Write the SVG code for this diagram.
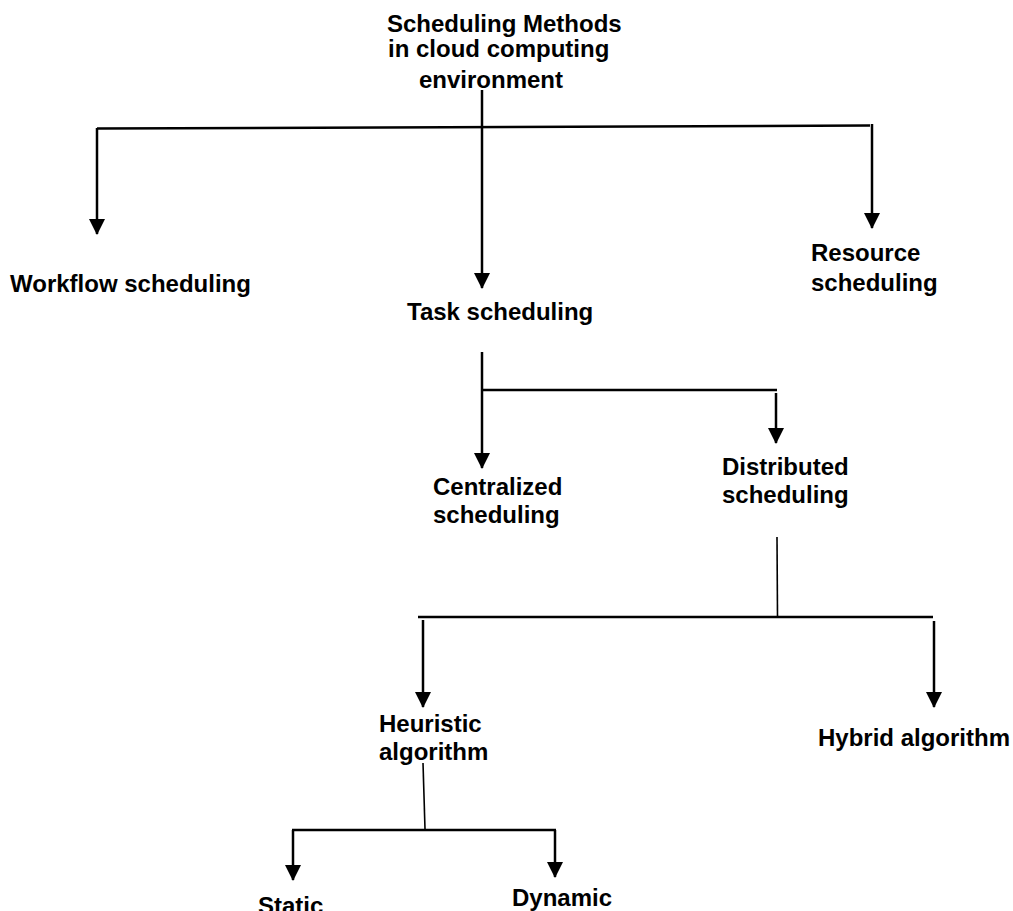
<svg xmlns="http://www.w3.org/2000/svg" width="1013" height="911" viewBox="0 0 1013 911">
<style>
text{font-family:"Liberation Sans",Arial,sans-serif;font-weight:bold;font-size:24px;fill:#000}
.ln{stroke:#000;stroke-width:2.5;fill:none}
.thin{stroke:#000;stroke-width:1.6;fill:none}
.arr{stroke:#000;stroke-width:2.5;fill:none;marker-end:url(#ah)}
</style>
<defs>
<marker id="ah" markerUnits="userSpaceOnUse" markerWidth="16" markerHeight="16" refX="15" refY="8" orient="auto" viewBox="0 0 16 16">
<path d="M0,0 L16,8 L0,16 z" fill="#000"/>
</marker>
</defs>
<rect width="1013" height="911" fill="#fff"/>
<g id="connectors">
<line class="arr" x1="482" y1="90" x2="482" y2="288"/>
<line class="ln" x1="97" y1="128.5" x2="870" y2="125.5"/>
<line class="arr" x1="97" y1="128" x2="97" y2="234"/>
<line class="arr" x1="872" y1="124" x2="872" y2="228"/>
<line class="arr" x1="482" y1="352" x2="482" y2="468"/>
<line class="ln" x1="482" y1="390" x2="777" y2="390"/>
<line class="arr" x1="776" y1="393" x2="776" y2="443"/>
<line class="thin" x1="777" y1="537" x2="777.5" y2="617"/>
<line class="ln" x1="418" y1="617" x2="933" y2="617"/>
<line class="arr" x1="423" y1="620" x2="423" y2="707"/>
<line class="arr" x1="934" y1="621" x2="934" y2="707"/>
<line class="thin" x1="423" y1="763" x2="425" y2="829"/>
<line class="ln" x1="292" y1="830" x2="556" y2="830"/>
<line class="arr" x1="293" y1="830" x2="293" y2="880"/>
<line class="arr" x1="555" y1="830" x2="555" y2="877"/>
</g>
<g id="root">
<text x="387" y="32">Scheduling Methods</text>
<text x="388" y="57">in cloud computing</text>
<text x="419" y="88">environment</text>
</g>
<g id="workflow"><text x="10" y="292">Workflow scheduling</text></g>
<g id="task"><text x="407" y="320">Task scheduling</text></g>
<g id="resource">
<text x="811" y="261">Resource</text>
<text x="811" y="291">scheduling</text>
</g>
<g id="centralized">
<text x="433" y="495">Centralized</text>
<text x="433" y="523">scheduling</text>
</g>
<g id="distributed">
<text x="722" y="475">Distributed</text>
<text x="722" y="503">scheduling</text>
</g>
<g id="heuristic">
<text x="379" y="732">Heuristic</text>
<text x="379" y="760">algorithm</text>
</g>
<g id="hybrid"><text x="818" y="746">Hybrid algorithm</text></g>
<g id="static"><text x="258" y="914">Static</text></g>
<g id="dynamic"><text x="512" y="906">Dynamic</text></g>
</svg>
